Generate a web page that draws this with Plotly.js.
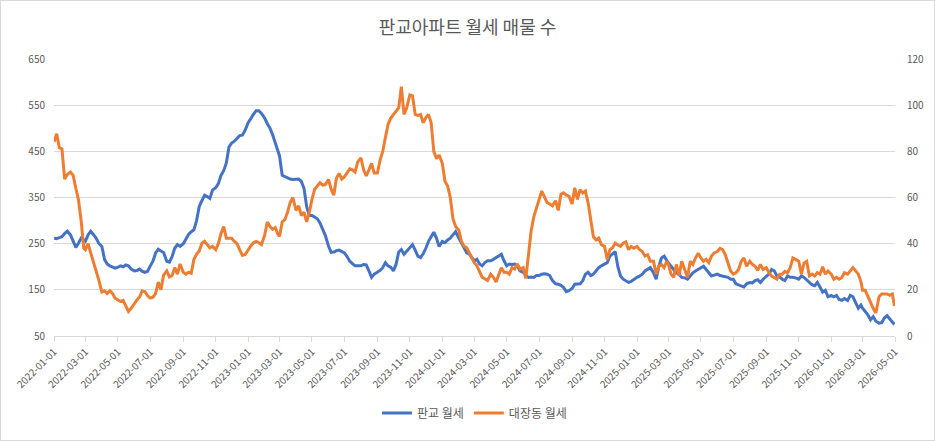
<!DOCTYPE html>
<html>
<head>
<meta charset="utf-8">
<script src="https://cdn.plot.ly/plotly-3.0.1.min.js"></script>
<style>
  html, body { margin: 0; padding: 0; background: #fff; }
  #chart { width: 935px; height: 441px; box-sizing: border-box; border: 1px solid #d9d9d9; }
</style>
</head>
<body>
<div id="chart"></div>
<script>
/* ── 판교 / 대장동 월세 매물 수 ── */

const TITLE = "판교아파트 월세 매물 수";
const SERIES_NAMES = ["판교 월세", "대장동 월세"];

const MONTHS = [
  "2022-01","2022-02","2022-03","2022-04","2022-05","2022-06","2022-07","2022-08","2022-09","2022-10","2022-11","2022-12",
  "2023-01","2023-02","2023-03","2023-04","2023-05","2023-06","2023-07","2023-08","2023-09","2023-10","2023-11","2023-12",
  "2024-01","2024-02","2024-03","2024-04","2024-05","2024-06","2024-07","2024-08","2024-09","2024-10","2024-11","2024-12",
  "2025-01","2025-02","2025-03","2025-04","2025-05","2025-06","2025-07","2025-08","2025-09","2025-10","2025-11","2025-12",
  "2026-01","2026-02","2026-03","2026-04",
];
const DAYS = ["01", "06", "11", "16", "21", "26"];
const LAST_DATE = "2026-04-30";

// 판교 월세 (left axis), six readings per month + last day
const PANGYO = [
  262, 261, 263, 265, 272, 277,   269, 255, 242, 251, 262, 258,   255, 269, 277, 270, 262, 251,
  244, 216, 206, 202, 200, 197,   199, 202, 200, 204, 202, 195,   191, 192, 195, 190, 188, 190,
  202, 212, 230, 238, 234, 231,   212, 210, 222, 240, 248, 244,   250, 260, 270, 276, 280, 300,
  330, 343, 355, 352, 348, 366,   371, 380, 398, 408, 425, 460,   468, 472, 477, 484, 485, 495,
  512, 522, 530, 538, 538, 532,   522, 510, 500, 486, 470, 452,   440, 398, 395, 392, 390, 389,
  389, 390, 385, 370, 330, 311,   311, 308, 304, 295, 282, 268,   245, 231, 232, 235, 236, 233,
  230, 222, 212, 207, 202, 202,   202, 205, 204, 191, 177, 184,   188, 192, 198, 209, 202, 199,
  191, 205, 232, 237, 227, 233,   241, 248, 236, 223, 220, 228,   240, 255, 265, 275, 262, 244,
  255, 252, 258, 262, 269, 276,   262, 251, 241, 230, 227, 220,   213, 216, 206, 202, 209, 213,
  213, 216, 220, 223, 227, 213,   202, 206, 205, 206, 202, 191,   188, 181, 177, 178, 177, 181,
  181, 184, 185, 184, 181, 170,   163, 162, 160, 155, 146, 148,   153, 162, 163, 163, 170, 184,
  188, 181, 184, 191, 198, 202,   206, 209, 223, 227, 233, 200,   180, 173, 170, 166, 168, 173,
  177, 180, 184, 191, 194, 198,   187, 173, 201, 219, 223, 212,   208, 201, 194, 187, 184, 177,
  176, 173, 180, 187, 191, 194,   198, 201, 194, 187, 180, 182,   184, 181, 180, 178, 177, 173,
  173, 163, 161, 159, 156, 163,   166, 165, 170, 172, 166, 173,   180, 184, 194, 191, 180, 178,
  173, 170, 180, 177, 177, 176,   173, 180, 177, 172, 166, 161,   159, 166, 156, 145, 149, 135,
  138, 135, 138, 129, 127, 131,   127, 138, 135, 124, 110, 117,   110, 103,  96,  85,  92,  82,
   78,  79,  89,  94,  87,  82,
   75,
];

// 대장동 월세 (right axis)
const DAEJANG = [
  84, 87.6, 81.6, 81, 68, 70,          71, 69.6, 64, 59, 50, 38,            37.4, 40, 36, 32, 29, 24.4,
  19, 19.6, 18.4, 19.6, 18.4, 16.4,    15.6, 15, 15.4, 12.8, 10.6, 12,      14.2, 15.6, 17, 19.6, 19.2, 17.4,
  16.4, 16.8, 18.4, 23.4, 20, 26.4,    28.2, 25.6, 26.2, 29.6, 26.8, 31.2,  27.6, 26.8, 27.6, 27.2, 33.2, 35.4,
  36.8, 40.2, 41, 39.6, 38.2, 38.8,    37.4, 40, 44.4, 47.4, 42.4, 42.4,    42.4, 41, 40, 37.4, 35, 35.2,
  37.4, 39, 40.4, 41, 40.4, 39.6,      43.6, 49.4, 47.4, 46.2, 47, 44,      43.2, 49.4, 50.4, 53.6, 57.8, 60,
  54.4, 56.4, 52.2, 53.6, 49.4, 53.6,  59.2, 63.6, 65, 66.4, 65.4, 65.6,    67.8, 63.6, 61, 68.4, 70.4, 68,
  69, 71, 72.4, 72, 71, 75.4,          77.2, 72, 69.4, 72, 74.8, 70.6,      70.6, 76.2, 80, 86, 91.6, 94.4,
  96, 97.4, 98.8, 108, 96, 98.8,       104.4, 104, 96, 95.6, 96, 92.4,      94.6, 96, 92.4, 80, 76.8, 78.4,
  74.8, 67, 65, 60, 50.8, 47.4,        45.8, 41, 38.8, 38.2, 36, 34,        31.8, 30.4, 28.2, 25.4, 24.8, 24,
  26.8, 25.4, 23.4, 27, 29.6, 27.6,    27.6, 26.8, 29.6, 29, 31.2, 29,      29.6, 25, 35.4, 45.6, 51.6, 56,
  59.2, 62.8, 60.6, 57.8, 57.2, 56.4,  58.6, 54.4, 61.4, 62, 61, 60.6,      57.2, 64.2, 59.2, 63.4, 62, 62.8,
  57.8, 50.8, 43, 41.6, 42.4, 39.6,    38.8, 33.2, 37.4, 38.2, 40.2, 39.4,  38.8, 40.2, 40.8, 37.4, 38.8, 38,
  38.8, 37.4, 36.6, 34.6, 35.2, 32.4,  32.4, 26.8, 30.2, 31, 29.6, 32.4,    31, 26.8, 25.4, 31, 26, 32.4,
  28.2, 25.4, 32.4, 31, 33.8, 35.8,    33.8, 32.4, 33.2, 31.8, 34.6, 36,    36.6, 38, 37.4, 35.2, 31.6, 28.2,
  26.8, 27.4, 28.8, 32.4, 33.8, 30.2,  32.4, 31, 30.2, 28.4, 31, 28.8,      29.6, 27.4, 26, 25.4, 24.6, 26.8,
  26.8, 28, 27.4, 29.6, 33.8, 33.2,    32.4, 26.8, 31.6, 32.4, 26, 26.8,    26, 27.4, 26.8, 30, 26.8, 28.2,
  26.8, 24.6, 25.4, 24.6, 25.4, 27.4,  26.8, 28.2, 29.6, 28.2, 26.8, 23.6,  19.8, 19.8, 17, 14.8, 12, 10,
  17, 18.2, 18.2, 18.2, 17.6, 18.2,
  13,
];

const BLUE   = "#4472C4";
const ORANGE = "#ED7D31";
const GRID   = "#d9d9d9";
const TEXT   = "#595959";
const FONT   = "'Noto Sans CJK KR', 'Noto Sans', sans-serif";

const dates = MONTHS.flatMap(m => DAYS.map(d => m + "-" + d)).concat([LAST_DATE]);

const traces = [
  {
    type: "scatter", mode: "lines", name: SERIES_NAMES[0],
    x: dates, y: PANGYO, yaxis: "y",
    line: { color: BLUE, width: 3 },
  },
  {
    type: "scatter", mode: "lines", name: SERIES_NAMES[1],
    x: dates, y: DAEJANG, yaxis: "y2",
    line: { color: ORANGE, width: 3 },
  },
];

const layout = {
  width: 933, height: 439,
  paper_bgcolor: "#fff",
  plot_bgcolor: "#fff",
  font: { family: FONT, color: TEXT, size: 10 },
  margin: { l: 53, r: 39, t: 58, b: 97 },
  title: {
    text: TITLE,
    font: { family: FONT, size: 18, color: TEXT },
    x: 0.5, xanchor: "center",
    yref: "container", y: 1 - 27 / 439, yanchor: "middle",
  },
  xaxis: {
    type: "date",
    range: ["2022-01-01", "2026-05-01"],
    tick0: "2022-01-01", dtick: "M2",
    tickformat: "%Y-%m-%d",
    tickangle: -45,
    ticks: "outside", ticklen: 5, tickcolor: GRID,
    showline: true, linecolor: GRID,
    showgrid: false, zeroline: false,
    tickfont: { size: 10, color: TEXT },
  },
  yaxis: {
    range: [50, 650], tick0: 50, dtick: 100,
    gridcolor: GRID, zeroline: false, showline: false,
    ticks: "", ticklabelstandoff: 8,
    tickfont: { size: 10, color: TEXT },
  },
  yaxis2: {
    overlaying: "y", side: "right",
    range: [0, 120], tick0: 0, dtick: 20,
    showgrid: false, zeroline: false, showline: false,
    ticks: "", ticklabelstandoff: 11,
    tickfont: { size: 10, color: TEXT },
  },
  legend: {
    orientation: "h",
    x: 0.5, xanchor: "center",
    y: -0.278, yanchor: "middle",
    font: { family: FONT, size: 12, color: TEXT },
    itemwidth: 30,
  },
  showlegend: true,
};

Plotly.newPlot("chart", traces, layout, { displayModeBar: false, staticPlot: true });
</script>
</body>
</html>
